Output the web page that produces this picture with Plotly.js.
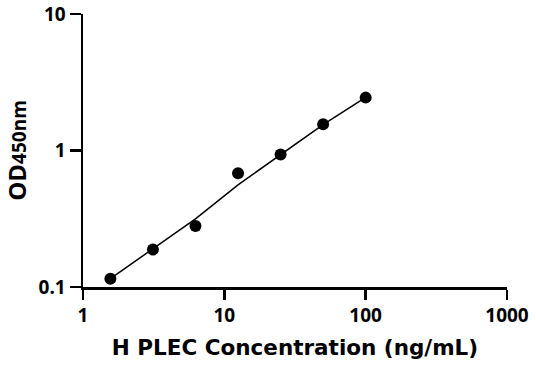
<!DOCTYPE html>
<html>
<head>
<meta charset="utf-8">
<script src="https://cdn.plot.ly/plotly-3.0.1.min.js"></script>
<style>html,body{margin:0;padding:0;background:#fff;}#chart{width:536px;height:371px;}</style>
</head>
<body>
<div id="chart"></div>
<script>
const concentrations = [1.5625, 3.125, 6.25, 12.5, 25, 50, 100];
const odValues = [0.115, 0.188, 0.28, 0.68, 0.935, 1.56, 2.44];
const fitValues = [0.115, 0.19, 0.316, 0.56, 0.93, 1.55, 2.45];
const xTickVals = [1, 10, 100, 1000];
const xTickText = ['1', '10', '100', '1000'];
const yTickVals = [0.1, 1, 10];
const yTickText = ['0.1', '1', '10'];

const fontFam = '"Open Sans", "Noto Sans", "DejaVu Sans", sans-serif';
const titleFam = '"DejaVu Sans", "Open Sans", sans-serif';

const traces = [
  {x: concentrations, y: fitValues, mode: 'lines', line: {color: '#000', width: 1.5}, hoverinfo: 'skip'},
  {x: concentrations, y: odValues, mode: 'markers', marker: {color: '#000', size: 12}}
];

const layout = {
  width: 536, height: 371,
  margin: {l: 83, r: 29, t: 14, b: 84},
  paper_bgcolor: '#fff', plot_bgcolor: '#fff',
  showlegend: false,
  font: {family: fontFam, color: '#000'},
  xaxis: {
    type: 'log', range: [0, 3],
    tickvals: xTickVals, ticktext: xTickText.map(t => '<b>' + t + '</b>'),
    ticks: 'outside', ticklen: 10, tickwidth: 2.5, tickcolor: '#000',
    showline: true, linewidth: 2.5, linecolor: '#000',
    showgrid: false, zeroline: false,
    tickfont: {size: 19, family: fontFam},
    title: {text: '<b>H PLEC Concentration (ng/mL)</b>', font: {size: 21.5, family: titleFam}, standoff: 13}
  },
  yaxis: {
    type: 'log', range: [-1, 1],
    tickvals: yTickVals, ticktext: yTickText.map(t => '<b>' + t + '</b>'),
    ticks: 'outside', ticklen: 11, tickwidth: 2.5, tickcolor: '#000',
    showline: true, linewidth: 2.5, linecolor: '#000',
    showgrid: false, zeroline: false,
    tickfont: {size: 19, family: fontFam},
    title: {text: '<b>OD<span style="font-size:19px">450nm</span></b>', font: {size: 24, family: fontFam}, standoff: 10}
  }
};

Plotly.newPlot('chart', traces, layout, {displayModeBar: false, staticPlot: true});
</script>
</body>
</html>
